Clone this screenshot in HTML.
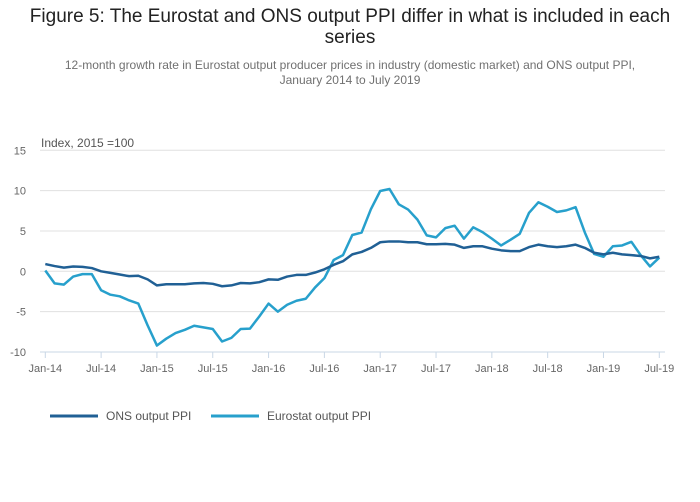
<!DOCTYPE html>
<html><head><meta charset="utf-8"><style>
body{margin:0;background:#fff;font-family:"Liberation Sans",sans-serif;}
#wrap{position:relative;width:700px;height:502px;overflow:hidden;}
.t{position:absolute;left:0;width:700px;text-align:center;}
</style></head><body>
<div id="wrap">
<div class="t" style="top:6px;font-size:19px;color:#222;line-height:21px;">Figure 5: The Eurostat and ONS output PPI differ in what is included in each<br>series</div>
<div class="t" style="top:58px;font-size:12px;color:#707070;line-height:15px;">12-month growth rate in Eurostat output producer prices in industry (domestic market) and ONS output PPI,<br>January 2014 to July 2019</div>
<svg id="c" width="700" height="502" style="position:absolute;left:0;top:0"></svg>
</div>
<script>
const months=["Jan-14","Jul-14","Jan-15","Jul-15","Jan-16","Jul-16","Jan-17","Jul-17","Jan-18","Jul-18","Jan-19","Jul-19"];
const yTicks=[15,10,5,0,-5,-10];
const ons=[0.9,0.65,0.45,0.6,0.55,0.4,0,-0.2,-0.4,-0.6,-0.55,-1.0,-1.75,-1.6,-1.6,-1.6,-1.5,-1.45,-1.55,-1.85,-1.75,-1.45,-1.5,-1.35,-1.0,-1.05,-0.65,-0.45,-0.45,-0.15,0.25,0.8,1.25,2.1,2.4,2.9,3.6,3.7,3.7,3.6,3.6,3.35,3.35,3.4,3.3,2.9,3.1,3.1,2.8,2.6,2.5,2.5,3.0,3.3,3.1,3.0,3.1,3.3,2.9,2.3,2.1,2.3,2.1,2.0,1.9,1.6,1.8];
const euro=[0.1,-1.5,-1.65,-0.65,-0.35,-0.35,-2.35,-2.9,-3.1,-3.6,-4.0,-6.7,-9.2,-8.35,-7.65,-7.25,-6.75,-6.95,-7.15,-8.7,-8.25,-7.15,-7.1,-5.6,-4.0,-5.0,-4.15,-3.65,-3.4,-2.0,-0.85,1.4,2.0,4.5,4.8,7.7,9.95,10.2,8.3,7.65,6.4,4.45,4.2,5.35,5.65,4.05,5.45,4.85,4.05,3.2,3.9,4.65,7.25,8.55,8.0,7.35,7.55,7.95,4.8,2.15,1.8,3.1,3.2,3.65,2.0,0.6,1.7];
const svg=document.getElementById('c');const NS='http://www.w3.org/2000/svg';
const x=i=>45.3+i*(614/66);
const y=v=>271.3-v*8.07;
function mk(t,a){const e=document.createElementNS(NS,t);for(const k in a)e.setAttribute(k,a[k]);svg.appendChild(e);return e;}
yTicks.forEach(v=>{
 const g=mk('line',{x1:40,x2:665,y1:y(v),y2:y(v),stroke:v==-10?'#c9d7e6':'#e0e0e0','stroke-width':1});
 
 
 const t=mk('text',{x:26,y:y(v)+4,'text-anchor':'end','font-size':11,fill:'#666'});t.textContent=v;
 
 
});
months.forEach((m,k)=>{
 const xi=x(k*6);
 const l=mk('line',{x1:xi,x2:xi,y1:352,y2:358,stroke:'#c9d7e6'});
 
 
 const t=mk('text',{x:xi,y:372,'text-anchor':'middle','font-size':11,fill:'#666'});t.textContent=m;
 
 
});
const yl=mk('text',{x:41,y:147,'font-size':12,fill:'#555'});yl.textContent='Index, 2015 =100';


function line(d,c,n){const p=mk('polyline',{points:d.map((v,i)=>x(i)+','+y(v)).join(' '),fill:'none',stroke:c,'stroke-width':2.5,'stroke-linejoin':'round'});
 
 }
line(euro,'#27a0cc','eurostat-line');
line(ons,'#206095','ons-line');
[[50,'#206095','ONS output PPI','legend-ons'],[211,'#27a0cc','Eurostat output PPI','legend-eurostat']].forEach(a=>{
 const l=mk('line',{x1:a[0],x2:a[0]+48,y1:416,y2:416,stroke:a[1],'stroke-width':3});
 
 
 const t=mk('text',{x:a[0]+56,y:420,'font-size':12,fill:'#555'});t.textContent=a[2];
 
 
});
</script>
</body></html>
